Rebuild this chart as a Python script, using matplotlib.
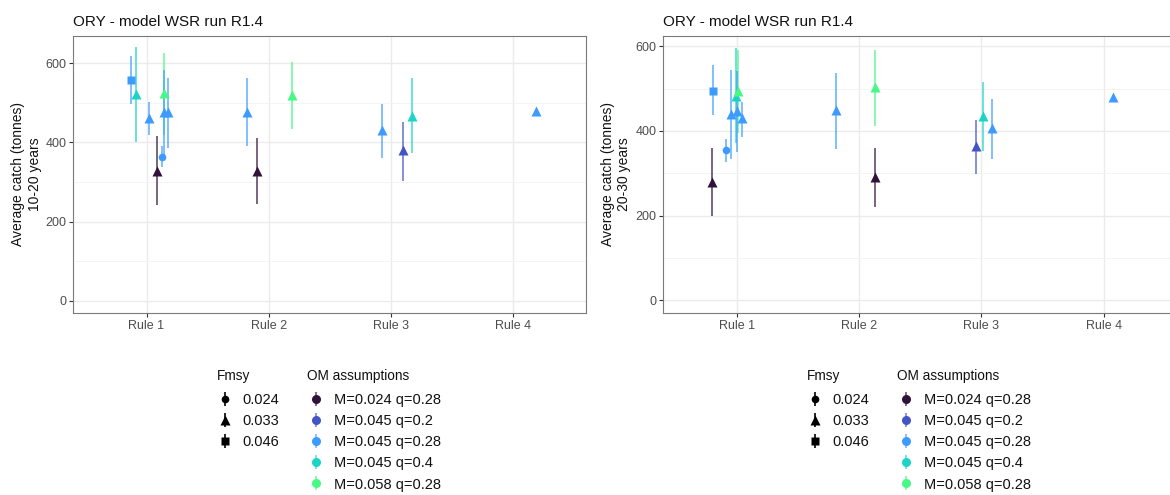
import matplotlib
matplotlib.use('Agg')
import matplotlib.pyplot as plt
from matplotlib.lines import Line2D
from matplotlib.legend_handler import HandlerTuple

plt.rcParams['font.family'] = ['Liberation Sans', 'DejaVu Sans']

# ---------------- data ----------------
rules = ['Rule 1', 'Rule 2', 'Rule 3', 'Rule 4']
fmsy_levels = ['0.024', '0.033', '0.046']
om_levels = ['M=0.024 q=0.28', 'M=0.045 q=0.2', 'M=0.045 q=0.28',
             'M=0.045 q=0.4', 'M=0.058 q=0.28']
om_colors = ['#30123B', '#4454C4', '#3E9BFE', '#1BD4C6', '#46F884']
fmsy_markers = ['o', '^', 's']
fmsy_sizes = [5.5, 7.0, 5.5]

# Panel A: average catch 10-20 years
a_rule = [1, 1, 1, 1, 1, 1, 1, 1, 2, 2, 2, 3, 3, 3, 4]
a_jit = [-0.131, -0.090, 0.020, 0.085, 0.126, 0.139, 0.147, 0.175,
         -0.180, -0.096, 0.193, -0.072, 0.103, 0.173, 0.192]
a_fmsy = [2, 1, 1, 1, 0, 1, 1, 1, 1, 1, 1, 1, 1, 1, 1]
a_om = [2, 3, 2, 0, 2, 4, 2, 2, 2, 0, 4, 2, 1, 3, 2]
a_mean = [557, 522, 461, 329, 364, 524, 476, 476, 478, 329, 519, 431, 380, 468, 480]
a_lo = [497, 401, 419, 241, 339, 420, 361, 386, 392, 245, 434, 361, 303, 373, 480]
a_hi = [619, 640, 502, 417, 390, 627, 583, 562, 562, 412, 603, 497, 452, 562, 480]

# Panel B: average catch 20-30 years
b_rule = [1, 1, 1, 1, 1, 1, 1, 1, 2, 2, 2, 3, 3, 3, 4]
b_jit = [-0.192, -0.198, -0.090, -0.043, -0.008, 0.011, 0.003, 0.041,
         -0.190, 0.128, 0.130, -0.041, 0.013, 0.084, 0.079]
b_fmsy = [2, 1, 0, 1, 1, 1, 1, 1, 1, 1, 1, 1, 1, 1, 1]
b_om = [2, 0, 2, 2, 3, 4, 2, 2, 2, 4, 0, 1, 3, 2, 2]
b_mean = [495, 279, 355, 440, 482, 495, 447, 430, 449, 504, 291, 364, 435, 406, 479]
b_lo = [437, 199, 327, 333, 371, 394, 351, 386, 357, 412, 220, 298, 352, 334, 479]
b_hi = [555, 359, 382, 543, 595, 592, 541, 469, 537, 592, 360, 426, 515, 475, 479]

title_text = 'ORY - model WSR run R1.4'

W, H = 1170, 495
fig = plt.figure(figsize=(W / 100, H / 100), dpi=100)


def px_axes(x0, y0, x1, y1):
    return fig.add_axes([x0 / W, 1 - y1 / H, (x1 - x0) / W, (y1 - y0) / H])


def draw_panel(ax, rule, jit, fm, om, mean, lo, hi, ylim, ylabel, label_x):
    xs = [r + j for r, j in zip(rule, jit)]
    for i in range(len(xs)):
        ax.vlines(xs[i], lo[i], hi[i], color=om_colors[om[i]], alpha=0.7,
                  lw=1.3, zorder=3)
    for i in range(len(xs)):
        ax.plot(xs[i], mean[i], marker=fmsy_markers[fm[i]], ms=fmsy_sizes[fm[i]],
                color=om_colors[om[i]], ls='none', mec='none', zorder=4)
    ax.set_xlim(0.4, 4.6)
    ax.set_ylim(*ylim)
    ax.set_xticks(range(1, 5))
    ax.set_xticklabels(rules)
    ax.set_yticks([0, 200, 400, 600])
    ax.set_yticks([100, 300, 500], minor=True)
    ax.grid(True, which='major', color='#EBEBEB', lw=1.0, zorder=0)
    ax.grid(True, which='minor', axis='y', color='#F2F2F2', lw=0.6, zorder=0)
    ax.set_axisbelow(True)
    ax.tick_params(axis='both', which='major', length=3, width=0.8,
                   color='#333333', labelcolor='#4D4D4D', labelsize=9, pad=2)
    ax.tick_params(axis='both', which='minor', length=0)
    for s in ax.spines.values():
        s.set_color('#7A7A7A')
        s.set_linewidth(0.8)
    ax.set_title(title_text, loc='left', fontsize=11, pad=7, color='#111111')
    ax.set_ylabel(ylabel, fontsize=10, multialignment='center', color='#111111')
    ax.yaxis.set_label_coords(label_x, 0.5)


ax1 = px_axes(73.3, 36, 586, 312.7)
ax2 = px_axes(663.3, 36, 1177, 312.7)

draw_panel(ax1, a_rule, a_jit, a_fmsy, a_om, a_mean, a_lo, a_hi, (-30, 669),
           'Average catch (tonnes)\n10-20 years', -0.062)
draw_panel(ax2, b_rule, b_jit, b_fmsy, b_om, b_mean, b_lo, b_hi, (-29, 624),
           'Average catch (tonnes)\n20-30 years', -0.062)

# ---------------- legends ----------------
def fmsy_handles():
    hs = []
    for m, s in zip(fmsy_markers, fmsy_sizes):
        hs.append((Line2D([], [], marker='|', ms=10, mew=1.2, color='black', ls='none'),
                   Line2D([], [], marker=m, ms=s, color='black', ls='none', mec='none')))
    return hs


def om_handles():
    hs = []
    for c in om_colors:
        hs.append((Line2D([], [], marker='|', ms=10, mew=1.2, color=c, alpha=0.7, ls='none'),
                   Line2D([], [], marker='o', ms=6.5, color=c, ls='none', mec='none')))
    return hs


def add_legend(handles, labels, title, x_px, y_px):
    fig.text(x_px / W, 1 - 376 / H, title, fontsize=9.8, va='center', ha='left',
             color='#111111')
    leg = fig.legend(handles, labels, loc='upper left',
                     bbox_to_anchor=(x_px / W, 1 - y_px / H),
                     bbox_transform=fig.transFigure, frameon=False,
                     fontsize=10.5,
                     handler_map={tuple: HandlerTuple(ndivide=1, pad=0)},
                     handlelength=1.2, handletextpad=0.6, labelspacing=0.49,
                     borderpad=0, borderaxespad=0)
    for t in leg.get_texts():
        t.set_color('#111111')
    return leg


for dx in (0, 590):
    add_legend(fmsy_handles(), fmsy_levels, 'Fmsy', 216.5 + dx, 393)
    add_legend(om_handles(), om_levels, 'OM assumptions', 307.3 + dx, 393)

fig.savefig('out.png', dpi=100)
